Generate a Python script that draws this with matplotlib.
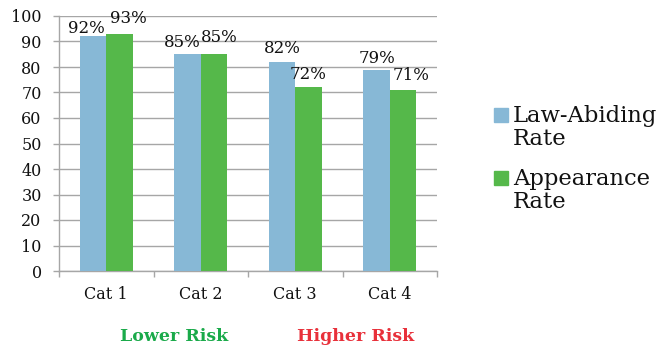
import matplotlib
matplotlib.use("Agg")
import matplotlib.pyplot as plt
from matplotlib.patches import Rectangle
import numpy as np

categories = ["Cat 1", "Cat 2", "Cat 3", "Cat 4"]
law_abiding = [92, 85, 82, 79]
appearance = [93, 85, 72, 71]
series_names = ["Law-Abiding\nRate", "Appearance\nRate"]
yticks = list(range(0, 101, 10))
risk_labels = ["Lower Risk", "Higher Risk"]

# style: label nudges (pixels) mimicking the reference's label placement
offs_law = [(-7, 3), (-5, 7), (0, 9), (0, 7)]
offs_app = [(9, 11), (5, 12), (0, 8), (8, 10)]

blue = "#87B8D6"
green = "#55B84A"
grid_c = "#A6A6A6"
text_c = "#111111"

plt.rcParams['font.family'] = ['DejaVu Serif']

fig = plt.figure(figsize=(6.6, 3.45), dpi=100)
ax = fig.add_axes([59/660, 1 - 271/345, (437-59)/660, (271-16)/345])

x = np.arange(len(categories))
w = 0.28
b1 = ax.bar(x - w/2, law_abiding, w, color=blue, zorder=3)
b2 = ax.bar(x + w/2, appearance, w, color=green, zorder=3)

for bars, vals, offs in ((b1, law_abiding, offs_law), (b2, appearance, offs_app)):
    for r, v, o in zip(bars, vals, offs):
        ax.annotate(f"{v}%", (r.get_x() + r.get_width()/2, v), xytext=o,
                    textcoords="offset pixels", ha="center", va="baseline",
                    fontsize=12, color=text_c, zorder=4, annotation_clip=False)

ax.set_xlim(-0.5, len(categories) - 0.5)
ax.set_ylim(0, 100)
ax.set_yticks(yticks)
ax.yaxis.grid(True, color=grid_c, linewidth=1)
ax.set_axisbelow(True)
ax.set_xticks(x)
ax.set_xticklabels(categories, fontsize=11.5, color=text_c)
ax.set_xticks(np.arange(len(categories) + 1) - 0.5, minor=True)
ax.tick_params(axis="x", which="major", length=0, pad=11)
ax.tick_params(axis="x", which="minor", length=4, color=grid_c, width=1)
ax.tick_params(axis="y", length=4.5, color=grid_c, width=1, labelsize=11.5,
               pad=8, labelcolor=text_c)
for s in ("top", "right"):
    ax.spines[s].set_visible(False)
for s in ("left", "bottom"):
    ax.spines[s].set_color(grid_c)
    ax.spines[s].set_linewidth(1)

# legend drawn manually: square aligned with first text line
leg_colors = [blue, green]
leg_base = [122, 185]
for name, col, yb in zip(series_names, leg_colors, leg_base):
    fig.patches.append(Rectangle((494/660, 1 - yb/345), 14/660, 14/345,
                                 transform=fig.transFigure, color=col, figure=fig))
    first, second = name.split("\n")
    fig.text(513/660, 1 - yb/345, first, ha="left", va="baseline",
             fontsize=16.3, color=text_c)
    fig.text(513/660, 1 - (yb + 23)/345, second, ha="left", va="baseline",
             fontsize=16.3, color=text_c)

fig.text(174/660, 1 - 341/345, risk_labels[0], ha="center", va="baseline",
         color="#1AAA4A", fontsize=12.5, fontweight="bold")
fig.text(356/660, 1 - 341/345, risk_labels[1], ha="center", va="baseline",
         color="#E8303A", fontsize=12.5, fontweight="bold")

fig.savefig("out.png", dpi=100)
